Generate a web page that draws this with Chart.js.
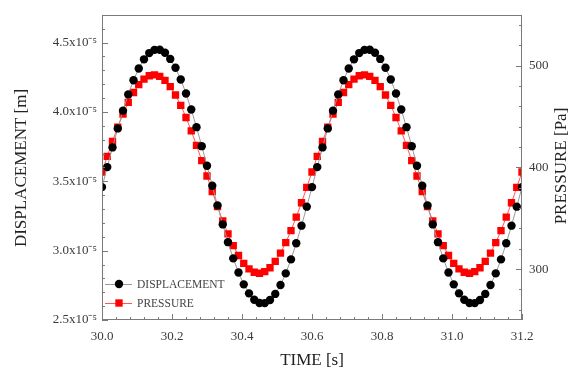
<!DOCTYPE html>
<html>
<head>
<meta charset="utf-8">
<script src="https://cdn.jsdelivr.net/npm/chart.js@4/dist/chart.umd.min.js"></script>
<style>
  html, body { margin: 0; padding: 0; background: #fff; }
  canvas { display: block; }
</style>
</head>
<body>
<canvas id="lineChart" width="577" height="371"></canvas>
<script>
// Tempo (s) - passo de 0.015 s
const tempo = [
  30.000, 30.015, 30.030, 30.045, 30.060, 30.075, 30.090, 30.105, 30.120, 30.135,
  30.150, 30.165, 30.180, 30.195, 30.210, 30.225, 30.240, 30.255, 30.270, 30.285,
  30.300, 30.315, 30.330, 30.345, 30.360, 30.375, 30.390, 30.405, 30.420, 30.435,
  30.450, 30.465, 30.480, 30.495, 30.510, 30.525, 30.540, 30.555, 30.570, 30.585,
  30.600, 30.615, 30.630, 30.645, 30.660, 30.675, 30.690, 30.705, 30.720, 30.735,
  30.750, 30.765, 30.780, 30.795, 30.810, 30.825, 30.840, 30.855, 30.870, 30.885,
  30.900, 30.915, 30.930, 30.945, 30.960, 30.975, 30.990, 31.005, 31.020, 31.035,
  31.050, 31.065, 31.080, 31.095, 31.110, 31.125, 31.140, 31.155, 31.170, 31.185,
  31.200
];

// Deslocamento (x10^-5 m)
const deslocamento = [
  3.458, 3.602, 3.744, 3.881, 4.009, 4.126, 4.228, 4.313, 4.379, 4.424,
  4.447, 4.448, 4.426, 4.382, 4.318, 4.234, 4.133, 4.017, 3.890, 3.753,
  3.612, 3.468, 3.326, 3.189, 3.061, 2.944, 2.842, 2.757, 2.692, 2.646,
  2.623, 2.622, 2.644, 2.688, 2.752, 2.836, 2.937, 3.053, 3.180, 3.317,
  3.458, 3.602, 3.744, 3.881, 4.009, 4.126, 4.228, 4.313, 4.379, 4.424,
  4.447, 4.448, 4.426, 4.382, 4.318, 4.234, 4.133, 4.017, 3.890, 3.753,
  3.612, 3.468, 3.326, 3.189, 3.061, 2.944, 2.842, 2.757, 2.692, 2.646,
  2.623, 2.622, 2.644, 2.688, 2.752, 2.836, 2.937, 3.053, 3.180, 3.317,
  3.458
];

// Pressão (Pa)
const pressao = [
  395.5, 410.8, 425.6, 439.6, 452.4, 463.9, 473.6, 481.3, 486.8, 490.1,
  491.0, 489.5, 485.6, 479.4, 471.2, 461.0, 449.1, 435.9, 421.7, 406.7,
  391.5, 376.2, 361.4, 347.4, 334.6, 323.1, 313.4, 305.7, 300.2, 296.9,
  296.0, 297.5, 301.4, 307.6, 315.8, 326.0, 337.9, 351.1, 365.3, 380.3,
  395.5, 410.8, 425.6, 439.6, 452.4, 463.9, 473.6, 481.3, 486.8, 490.1,
  491.0, 489.5, 485.6, 479.4, 471.2, 461.0, 449.1, 435.9, 421.7, 406.7,
  391.5, 376.2, 361.4, 347.4, 334.6, 323.1, 313.4, 305.7, 300.2, 296.9,
  296.0, 297.5, 301.4, 307.6, 315.8, 326.0, 337.9, 351.1, 365.3, 380.3,
  395.5
];

// Rótulos dos eixos
const ticksTempo = [30.0, 30.2, 30.4, 30.6, 30.8, 31.0, 31.2];
const ticksDesloc = [2.5, 3.0, 3.5, 4.0, 4.5];
const ticksPressao = [300, 400, 500];

const serif = '"Liberation Serif", "Times New Roman", serif';
const corEixo = '#7a7a7a';

// Moldura, marcas para dentro, títulos e legenda
const molduraPlugin = {
  id: 'moldura',
  afterDraw(chart) {
    const { ctx, chartArea: a, scales } = chart;
    ctx.save();
    ctx.strokeStyle = corEixo;
    ctx.lineWidth = 1;
    ctx.strokeRect(Math.round(a.left) + 0.5, Math.round(a.top) + 0.5,
      Math.round(a.right - a.left) - 1, Math.round(a.bottom - a.top) - 1);

    ctx.beginPath();
    // eixo x: maior a cada 0.2, menor a cada 0.04
    for (let i = 0; i <= 30; i++) {
      const px = Math.round(scales.x.getPixelForValue(30 + i * 0.04)) + 0.5;
      const len = i % 5 === 0 ? 6 : 3;
      ctx.moveTo(px, a.bottom); ctx.lineTo(px, a.bottom - len);
    }
    // eixo esquerdo: maior a cada 0.5, menor a cada 0.1
    for (let i = 0; i <= 22; i++) {
      const py = Math.round(scales.y.getPixelForValue(2.5 + i * 0.1)) + 0.5;
      const len = i % 5 === 0 ? 6 : 3;
      ctx.moveTo(a.left, py); ctx.lineTo(a.left + len, py);
    }
    // eixo direito: maior a cada 100, menor a cada 20
    for (let val = 260; val <= 540; val += 20) {
      const py = Math.round(scales.y1.getPixelForValue(val)) + 0.5;
      const len = val % 100 === 0 ? 6 : 3;
      ctx.moveTo(a.right, py); ctx.lineTo(a.right - len, py);
    }
    ctx.stroke();

    // títulos
    ctx.fillStyle = '#222';
    ctx.font = '17px ' + serif;
    ctx.textAlign = 'center';
    ctx.textBaseline = 'middle';
    ctx.fillText('TIME [s]', (a.left + a.right) / 2, 361);
    ctx.save();
    ctx.translate(22, 168);
    ctx.rotate(-Math.PI / 2);
    ctx.fillText('DISPLACEMENT [m]', 0, 0);
    ctx.restore();
    ctx.save();
    ctx.translate(562, 166);
    ctx.rotate(-Math.PI / 2);
    ctx.fillText('PRESSURE [Pa]', 0, 0);
    ctx.restore();

    // legenda
    const linhas = [
      { y: 284, ds: chart.data.datasets[0] },
      { y: 303, ds: chart.data.datasets[1] }
    ];
    ctx.font = '11.5px ' + serif;
    ctx.textAlign = 'left';
    linhas.forEach(l => {
      ctx.strokeStyle = l.ds.borderColor;
      ctx.lineWidth = 1;
      ctx.beginPath();
      ctx.moveTo(105, l.y + 0.5); ctx.lineTo(132, l.y + 0.5);
      ctx.stroke();
      ctx.fillStyle = l.ds.pointBackgroundColor;
      Chart.helpers.drawPoint(ctx, {
        pointStyle: l.ds.pointStyle, radius: l.ds.pointRadius, rotation: 0, borderWidth: 0
      }, 119, l.y);
      ctx.fillStyle = '#444';
      ctx.fillText(l.ds.label, 137, l.y + 1);
    });
    ctx.restore();
  }
};

const data = {
  datasets: [{
    label: 'DISPLACEMENT',
    data: tempo.map((t, i) => ({ x: t, y: deslocamento[i] })),
    yAxisID: 'y',
    borderColor: '#9a9a9a',
    borderWidth: 1,
    pointStyle: 'circle',
    pointRadius: 4.2,
    pointBackgroundColor: '#000',
    pointBorderWidth: 0,
    tension: 0
  }, {
    label: 'PRESSURE',
    data: tempo.map((t, i) => ({ x: t, y: pressao[i] })),
    yAxisID: 'y1',
    borderColor: '#ff5555',
    borderWidth: 1,
    pointStyle: 'rect',
    pointRadius: 5.2,
    pointBackgroundColor: '#ff0000',
    pointBorderWidth: 0,
    tension: 0
  }]
};

const config = {
  type: 'line',
  data: data,
  options: {
    responsive: false,
    animation: false,
    layout: { padding: { top: 12, left: 0, right: 0, bottom: 0 } },
    plugins: {
      legend: { display: false },
      tooltip: { enabled: false }
    },
    scales: {
      x: {
        type: 'linear',
        min: 30,
        max: 31.2,
        afterFit: s => { s.height = 51; },
        afterBuildTicks: s => { s.ticks = ticksTempo.map(v => ({ value: v })); },
        grid: { display: false, drawTicks: false },
        border: { display: false },
        ticks: {
          padding: 9,
          color: '#3a3a3a',
          font: { family: serif, size: 13 },
          maxRotation: 0,
          callback: v => Number(v).toFixed(1)
        }
      },
      y: {
        position: 'left',
        min: 2.5,
        max: 4.7,
        afterFit: s => { s.width = 102; },
        afterBuildTicks: s => { s.ticks = ticksDesloc.map(v => ({ value: v })); },
        grid: { display: false, drawTicks: false },
        border: { display: false },
        ticks: {
          padding: 5,
          color: '#3a3a3a',
          font: { family: serif, size: 13 },
          callback: v => Number(v).toFixed(1) + 'x10\u207B\u2075'
        }
      },
      y1: {
        position: 'right',
        min: 250,
        max: 550,
        afterFit: s => { s.width = 55; },
        afterBuildTicks: s => { s.ticks = ticksPressao.map(v => ({ value: v })); },
        grid: { display: false, drawTicks: false },
        border: { display: false },
        ticks: {
          padding: 7,
          color: '#3a3a3a',
          font: { family: serif, size: 13 },
          callback: v => String(v)
        }
      }
    }
  },
  plugins: [molduraPlugin]
};

const ctx = document.getElementById('lineChart').getContext('2d');
new Chart(ctx, config);
</script>
</body>
</html>
